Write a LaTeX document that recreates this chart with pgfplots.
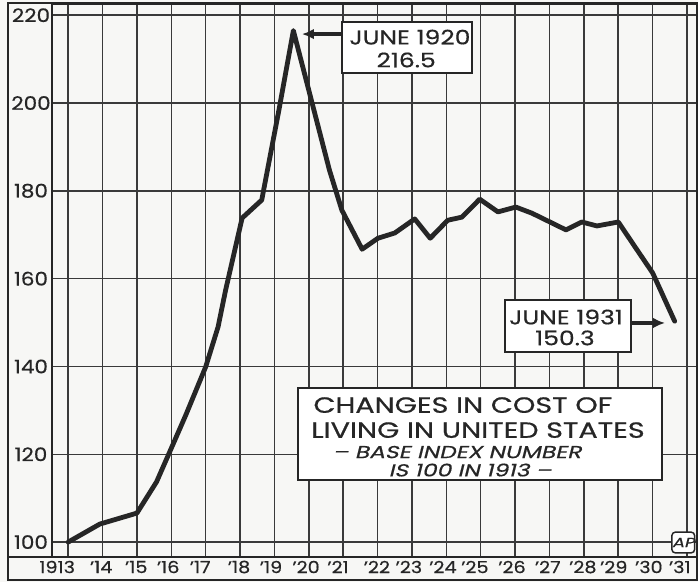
\documentclass[border=0pt]{standalone}
\usepackage{fontspec}
\setmainfont{Poppins}[FakeStretch=1.15,FakeBold=0.5]
\newfontfamily\boxfont{Poppins}[FakeStretch=1.25,FakeBold=0.5]
\newfontfamily\titlefont{Poppins}[FakeStretch=1.3,FakeBold=0.6]
\newfontfamily\slantfont{Poppins}[FakeSlant=0.25,FakeStretch=1.35,FakeBold=0.6]
\usepackage{pgfplots}
\usepackage{pgfplotstable}
\pgfplotsset{compat=1.18}
\usetikzlibrary{arrows.meta}
\definecolor{ink}{HTML}{262626}
\definecolor{gridc}{HTML}{3A3A3A}
\definecolor{bgc}{HTML}{F7F7F5}

\pgfplotstableread{
x y
1913.00 100.0
1913.92 104.1
1915.00 106.6
1915.57 113.7
1915.94 120.3
1916.42 128.9
1917.00 139.9
1917.36 149.0
1917.58 157.4
1918.06 173.8
1918.63 177.9
1919.13 198.4
1919.55 216.5
1920.60 184.7
1920.96 175.6
1921.55 166.7
1922.01 169.2
1922.50 170.4
1923.08 173.6
1923.53 169.2
1924.04 173.3
1924.45 174.0
1924.97 178.1
1925.50 175.2
1926.02 176.3
1926.49 174.9
1927.48 171.1
1927.94 172.9
1928.38 172.0
1929.00 172.9
1929.49 167.2
1930.00 161.3
1930.64 150.3
}\costdata

\begin{document}
\begin{tikzpicture}
\useasboundingbox (0,0) rectangle (523.5pt,436.5pt);
\fill[bgc] (0,0) rectangle (523.5pt,436.5pt);
\begin{axis}[
  at={(39pt,18.75pt)}, anchor=south west,
  scale only axis, width=483.75pt, height=414.75pt,
  xmin=1912.53, xmax=1931.29, ymin=96.6, ymax=222.55,
  xtick={1913,1914,...,1931}, xticklabels={},
  extra x ticks={1912.68,1913.96,1914.98,1915.91,1916.84,1917.97,1918.90,1919.92,1920.85,1921.98,1922.91,1923.90,1924.83,1925.91,1926.95,1927.97,1928.87,1929.89,1930.79},
  extra x tick labels={1913,'14,'15,'16,'17,'18,'19,'20,'21,'22,'23,'24,'25,'26,'27,'28,'29,'30,'31},
  extra x tick style={grid=none},
  ytick={100,120,...,220},
  grid=major,
  major grid style={line width=1.1pt, draw=gridc},
  tick style={draw=none},
  axis line style={line width=1.6pt, draw=ink},
  /pgf/number format/assume math mode=true,
  xticklabel style={font=\fontsize{12.5}{12.5}\selectfont, text=ink, anchor=center, yshift=-7.5pt},
  yticklabel style={font=\fontsize{14}{14}\selectfont, text=ink, anchor=center, xshift=-15.75pt},
  clip=false,
]
\addplot[ink, line width=3.6pt, line join=round, line cap=round] table[x=x,y=y]{\costdata};

% June 1920 box
\node[draw=ink, line width=1.5pt, fill=white, minimum width=97.5pt, minimum height=38.25pt, inner sep=0pt] at (axis cs:1922.855,212.64) {};
\node[font=\boxfont\fontsize{15}{15}\selectfont, text=ink] at (axis cs:1922.94,215.0) {JUNE 1920};
\node[font=\boxfont\fontsize{15}{15}\selectfont, text=ink] at (axis cs:1922.83,209.8) {216.5};
\draw[ink, line width=2.4pt, -{Latex[length=9pt,width=8pt]}] (axis cs:1920.97,215.7) -- (axis cs:1919.80,215.7);

% June 1931 box
\node[draw=ink, line width=1.5pt, fill=white, minimum width=94.5pt, minimum height=39pt, inner sep=0pt] at (axis cs:1927.535,149.2) {};
\node[font=\boxfont\fontsize{15}{15}\selectfont, text=ink] at (axis cs:1927.48,151.25) {JUNE 1931};
\node[font=\boxfont\fontsize{15}{15}\selectfont, text=ink] at (axis cs:1927.45,146.5) {150.3};
\draw[ink, line width=2.4pt, -{Latex[length=9pt,width=8pt]}] (axis cs:1929.37,149.9) -- (axis cs:1930.36,149.9);

% Title box
\node[draw=ink, line width=1.5pt, fill=white, minimum width=273pt, minimum height=69pt, inner sep=0pt] at (axis cs:1924.977,124.6) {};
\node[font=\titlefont\fontsize{16.5}{16.5}\selectfont, text=ink] at (axis cs:1924.48,131.2) {CHANGES IN COST OF};
\node[font=\titlefont\fontsize{16.5}{16.5}\selectfont, text=ink] at (axis cs:1924.92,125.5) {LIVING IN UNITED STATES};
\node[font=\slantfont\fontsize{13}{13}\selectfont, text=ink] at (axis cs:1924.31,120.5) {– BASE INDEX NUMBER};
\node[font=\slantfont\fontsize{13}{13}\selectfont, text=ink] at (axis cs:1924.69,116.4) {IS 100 IN 1913 –};

% AP logo
\node[draw=ink, line width=1.1pt, rounded corners=2.5pt, fill=white, minimum width=17pt, minimum height=15.5pt, inner sep=0pt, font=\slantfont\fontsize{10}{10}\selectfont, text=ink] at (axis cs:1930.89,99.9) {AP};
\end{axis}
\draw[ink, line width=1.6pt] (6pt,1.5pt) rectangle (522.75pt,434.25pt);
\draw[ink, line width=1.6pt] (6pt,18.75pt) -- (39pt,18.75pt);
\end{tikzpicture}
\end{document}
